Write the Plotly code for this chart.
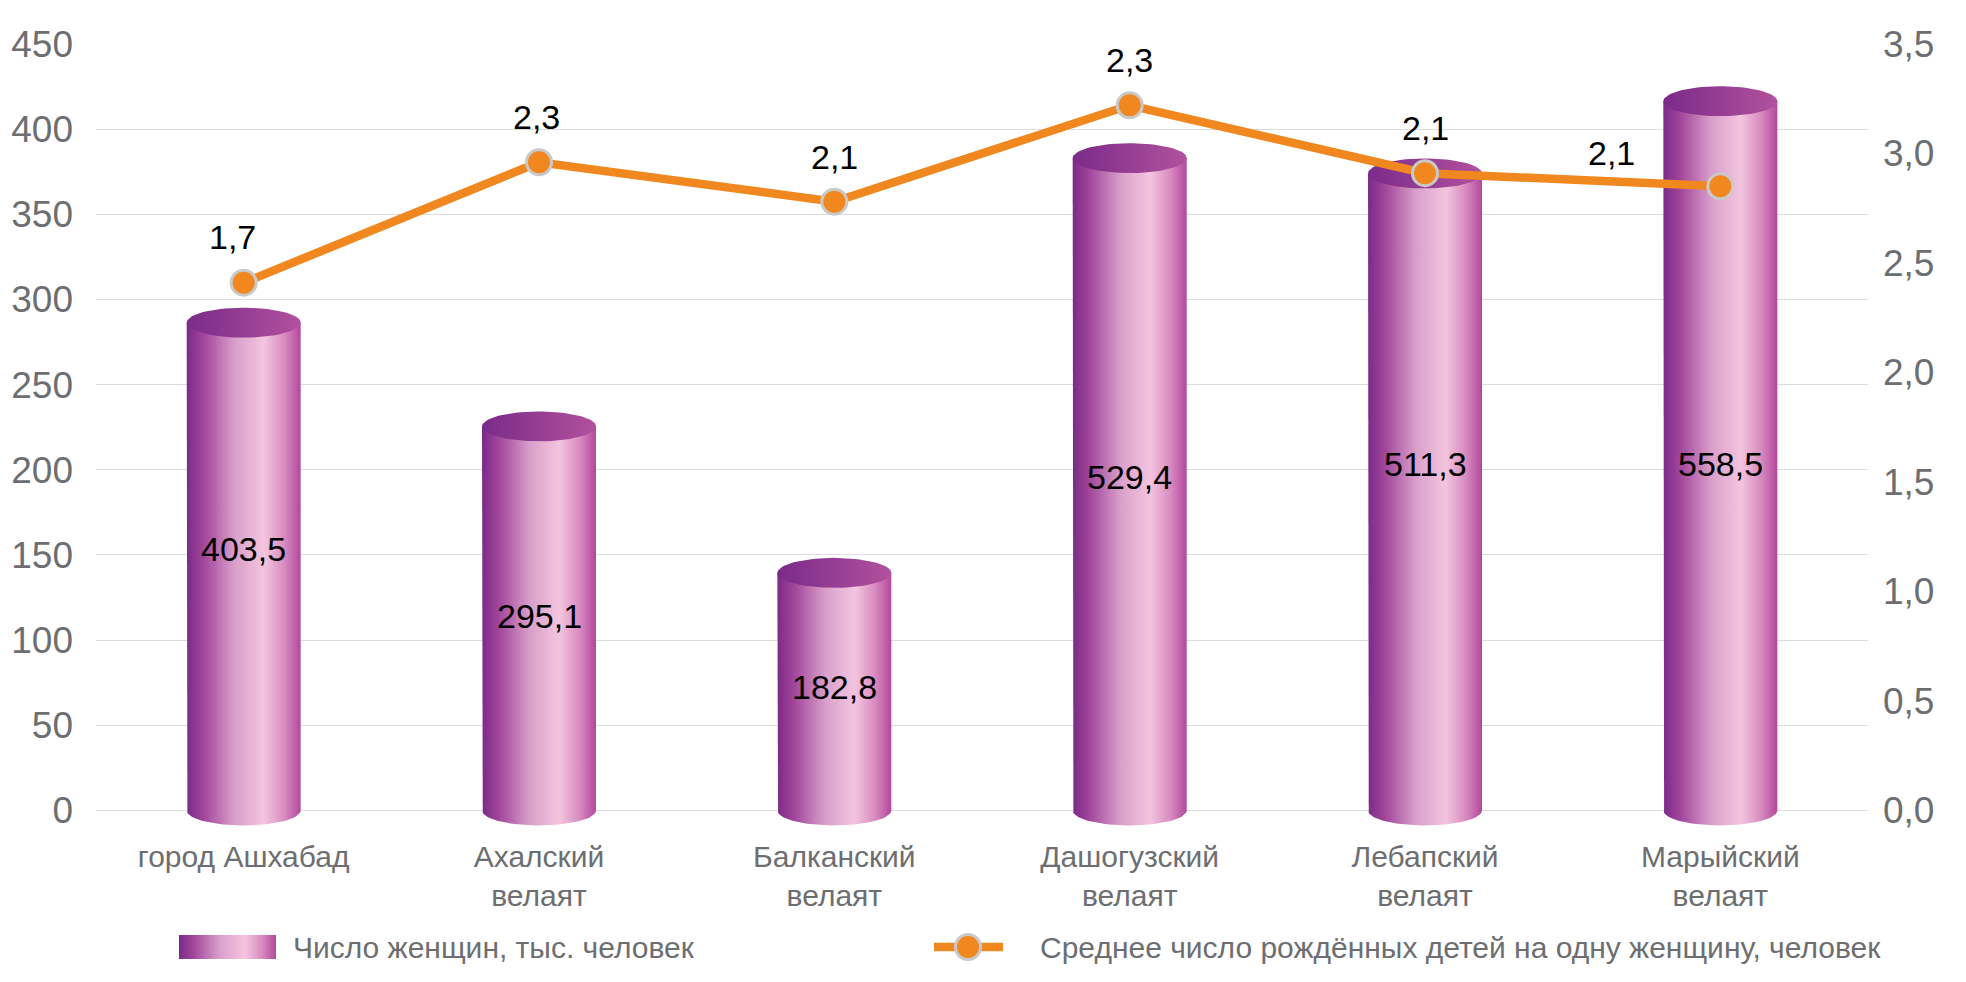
import numpy as np
import plotly.graph_objects as go

# ---------------- data ----------------
categories = ["город Ашхабад", "Ахалский<br>велаят", "Балканский<br>велаят",
              "Дашогузский<br>велаят", "Лебапский<br>велаят", "Марыйский<br>велаят"]
women_labels = ["403,5", "295,1", "182,8", "529,4", "511,3", "558,5"]
women_heights = [286.4, 225.5, 139.5, 383.0, 374.0, 416.4]   # heights as drawn on the left axis
births_labels = ["1,7", "2,3", "2,1", "2,3", "2,1", "2,1"]
births_positions = [2.41, 2.96, 2.78, 3.22, 2.91, 2.85]      # positions as drawn on the right axis
left_ticks = [0, 50, 100, 150, 200, 250, 300, 350, 400, 450]
right_ticks = [0, 0.5, 1.0, 1.5, 2.0, 2.5, 3.0, 3.5]
right_ticktext = ["0,0", "0,5", "1,0", "1,5", "2,0", "2,5", "3,0", "3,5"]
legend_names = ["Число женщин, тыс. человек",
                "Среднее число рождённых детей на одну женщину, человек"]

# ---------------- style ----------------
FONT = "Arial, Liberation Sans, sans-serif"
GREY = "#6d6e71"
ORANGE = "#f0871f"
body_scale = [[0.0, "#7b2a89"], [0.15, "#a2469b"], [0.42, "#d99fca"],
              [0.68, "#f4c5df"], [0.86, "#d78abf"], [1.0, "#b3479c"]]
top_scale = [[0.0, "#7a2b89"], [1.0, "#b2519e"]]
bar_label_yshift = [18, 2, 5, 7, 28, -8]          # pixel nudges of in-bar labels
line_label_xshift = [-11, -3, 0, 0, 0, -109]      # pixel nudges of line labels
line_label_yshift = [46, 45, 45, 45, 45, 33]

Y_MIN, Y_MAX = -15, 450
Y2_MAX = 3.5
Y2_MIN = Y_MIN * Y2_MAX / Y_MAX
HALF_W = 0.193   # half bar width in category units
ELL_H = 8.8      # ellipse semi-height in left-axis units

fig = go.Figure()

t = np.linspace(0, np.pi, 40)
tt = np.linspace(0, 2 * np.pi, 80)
for i, h in enumerate(women_heights):
    c = i
    bx = np.concatenate([[c - HALF_W], c - HALF_W * np.cos(t), [c + HALF_W, c - HALF_W]])
    by = np.concatenate([[h], -ELL_H * np.sin(t), [h, h]])
    fig.add_trace(go.Scatter(x=bx, y=by, mode="lines", fill="toself",
                             line=dict(width=0, color="rgba(0,0,0,0)"),
                             fillgradient=dict(type="horizontal", colorscale=body_scale),
                             hoverinfo="skip", showlegend=False))
    tx = c + HALF_W * np.cos(tt)
    ty = h + ELL_H * np.sin(tt)
    fig.add_trace(go.Scatter(x=tx, y=ty, mode="lines", fill="toself",
                             line=dict(width=0, color="rgba(0,0,0,0)"),
                             fillgradient=dict(type="horizontal", colorscale=top_scale),
                             hoverinfo="skip", showlegend=False))

# value labels inside bars
for i, (h, lab) in enumerate(zip(women_heights, women_labels)):
    fig.add_annotation(x=i, y=h / 2, xref="x", yref="y", yshift=bar_label_yshift[i],
                       text=lab, showarrow=False,
                       font=dict(family=FONT, size=34, color="#000000"))

# line on secondary axis
fig.add_trace(go.Scatter(x=list(range(len(categories))), y=births_positions, yaxis="y2",
                         mode="lines+markers",
                         line=dict(color=ORANGE, width=8.5),
                         marker=dict(size=25, color=ORANGE, line=dict(color="#c9c9c9", width=3)),
                         hoverinfo="skip", showlegend=False))
for i, (v, lab) in enumerate(zip(births_positions, births_labels)):
    fig.add_annotation(x=i, y=v, xref="x", yref="y2", yshift=line_label_yshift[i],
                       xshift=line_label_xshift[i], text=lab, showarrow=False,
                       font=dict(family=FONT, size=34, color="#000000"))

# ---------------- custom legend (own hidden axes, pixel units) ----------------
fig.add_trace(go.Scatter(x=[179, 276, 276, 179, 179], y=[3, 3, 27, 27, 3],
                         xaxis="x3", yaxis="y3", mode="lines", fill="toself",
                         line=dict(width=0, color="rgba(0,0,0,0)"),
                         fillgradient=dict(type="horizontal", colorscale=body_scale),
                         hoverinfo="skip", showlegend=False))
fig.add_trace(go.Scatter(x=[934, 1003], y=[15, 15], xaxis="x3", yaxis="y3", mode="lines",
                         line=dict(color=ORANGE, width=8.5), hoverinfo="skip", showlegend=False))
fig.add_trace(go.Scatter(x=[968], y=[15], xaxis="x3", yaxis="y3", mode="markers",
                         marker=dict(size=25, color=ORANGE, line=dict(color="#c9c9c9", width=3)),
                         hoverinfo="skip", showlegend=False))
for xpos, name in zip([291, 1038], legend_names):
    fig.add_annotation(x=xpos, y=15, xref="x3", yref="y3", text=name, showarrow=False,
                       xanchor="left", yanchor="middle",
                       font=dict(family=FONT, size=30, color=GREY))

# page body has an 8px default margin -> shrink figure and shift by 8px
OFF = 8
H, W = 982 - OFF, 1966 - OFF
mt, mb = 44 - OFF, 7
ml, mr = 96 - OFF, 1966 - 1868
paper_h = H - mt - mb
plot_bottom_px = 836 - OFF
main_bottom = (H - mb - plot_bottom_px) / paper_h
leg_lo = (H - mb - (962 - OFF)) / paper_h
leg_hi = (H - mb - (930 - OFF)) / paper_h

fig.update_layout(
    width=W, height=H,
    margin=dict(l=ml, r=mr, t=mt, b=mb, autoexpand=False),
    paper_bgcolor="white", plot_bgcolor="white",
    font=dict(family=FONT, color=GREY),
    showlegend=False,
    xaxis=dict(range=[-0.5, len(categories) - 0.5], tickvals=list(range(len(categories))),
               ticktext=categories, showgrid=False, zeroline=False, showline=False,
               ticks="", tickfont=dict(family=FONT, size=30, color=GREY), fixedrange=True,
               anchor="y", automargin=False),
    yaxis=dict(domain=[main_bottom, 1], range=[Y_MIN, Y_MAX], tickvals=left_ticks,
               showgrid=True, gridcolor="#dcdcdc", gridwidth=1.3, zeroline=False,
               showline=False, ticks="", tickfont=dict(family=FONT, size=37, color=GREY),
               ticklabelstandoff=22, fixedrange=True, automargin=False),
    yaxis2=dict(overlaying="y", side="right", range=[Y2_MIN, Y2_MAX], tickvals=right_ticks,
                ticktext=right_ticktext, showgrid=False, zeroline=False, showline=False,
                ticks="", tickfont=dict(family=FONT, size=37, color=GREY),
                ticklabelstandoff=14, fixedrange=True, automargin=False),
    xaxis3=dict(domain=[0, 1], range=[96, 1868], visible=False, anchor="y3", fixedrange=True,
                automargin=False),
    yaxis3=dict(domain=[leg_lo, leg_hi], range=[0, 32], visible=False, anchor="x3",
                fixedrange=True, automargin=False),
)

fig.write_html("out.html")
